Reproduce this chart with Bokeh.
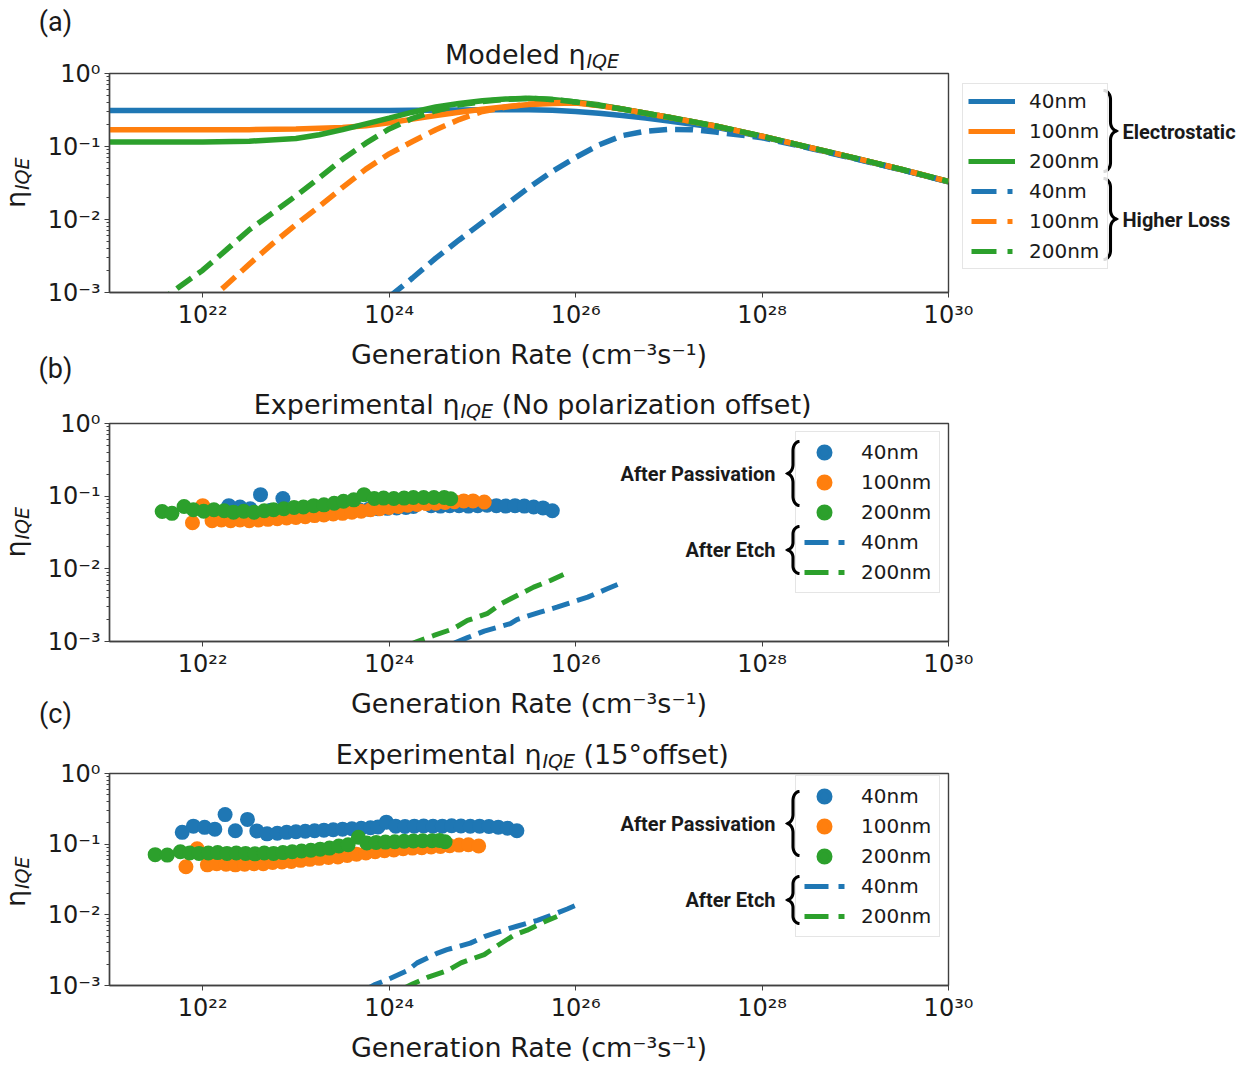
from math import pi, sin, cos, hypot

from bokeh.plotting import figure
from bokeh.models import (Range1d, FixedTicker, CustomJSTickFormatter, Legend,
                          LegendItem, Label, PolyAnnotation, GridBox)
from bokeh.embed import file_html
from bokeh.resources import INLINE

BLUE, ORANGE, GREEN = "#1f77b4", "#ff7f0e", "#2ca02c"
TXT = "#1a1a1a"
AX = "#404040"

# ----------------------------- data -----------------------------
# generation-rate positions are stored as log10(G / cm^-3 s^-1)
x_ticks = [1e22, 1e24, 1e26, 1e28, 1e30]
y_ticks = [1e-3, 1e-2, 1e-1, 1e0]
size_labels = ["40nm", "100nm", "200nm"]

# (a) modeled eta_IQE
model_logG = [21.0, 21.5, 22.0, 22.5, 23.0, 23.25, 23.5, 23.75, 24.0, 24.25, 24.5, 24.75, 25.0,
              25.25, 25.5, 25.75, 26.0, 26.25, 26.5, 26.75, 27.0, 27.5, 28.0, 28.5, 29.0, 29.5, 30.0]
eta_elec_40 = [0.311, 0.311, 0.311, 0.311, 0.311, 0.311, 0.311, 0.311, 0.312, 0.313, 0.314, 0.316, 0.318,
               0.319, 0.318, 0.314, 0.302, 0.285, 0.266, 0.245, 0.224, 0.184, 0.136, 0.0966, 0.0684, 0.0479, 0.0327]
eta_elec_100 = [0.169, 0.169, 0.169, 0.170, 0.174, 0.178, 0.182, 0.193, 0.211, 0.237, 0.266, 0.295, 0.324,
                0.351, 0.376, 0.389, 0.394, 0.365, 0.326, 0.285, 0.251, 0.191, 0.138, 0.0977, 0.0692, 0.0484, 0.0331]
eta_elec_200 = [0.115, 0.115, 0.115, 0.118, 0.129, 0.145, 0.170, 0.204, 0.245, 0.295, 0.347, 0.389, 0.422,
                0.447, 0.457, 0.442, 0.407, 0.372, 0.326, 0.285, 0.251, 0.191, 0.138, 0.0977, 0.0692, 0.0484, 0.0331]

loss40_logG = [24.0, 24.25, 24.5, 24.75, 25.0, 25.25, 25.5, 25.75, 26.0, 26.25, 26.5, 26.75, 27.0,
               27.25, 27.5, 28.0, 28.5, 29.0, 29.5, 30.0]
eta_loss_40 = [0.00087, 0.00158, 0.00295, 0.00525, 0.00912, 0.0158, 0.0275, 0.0457, 0.0708, 0.105, 0.141,
               0.162, 0.172, 0.170, 0.158, 0.132, 0.0955, 0.0676, 0.0479, 0.0327]
loss100_logG = [22.0, 22.25, 22.5, 22.75, 23.0, 23.25, 23.5, 23.75, 24.0, 24.25, 24.5, 24.75, 25.0,
                25.25, 25.5, 25.75, 26.0, 26.5, 27.0, 27.5, 28.0, 28.5, 29.0, 29.5, 30.0]
eta_loss_100 = [0.000646, 0.00126, 0.00245, 0.00468, 0.00851, 0.0151, 0.0275, 0.0490, 0.0794, 0.117, 0.170,
                0.234, 0.302, 0.347, 0.380, 0.398, 0.403, 0.326, 0.251, 0.191, 0.138, 0.0977, 0.0692, 0.0484, 0.0331]
loss200_logG = [21.5, 21.75, 22.0, 22.25, 22.5, 22.75, 23.0, 23.25, 23.5, 23.75, 24.0, 24.25, 24.5, 24.75,
                25.0, 25.25, 25.5, 25.75, 26.0, 26.5, 27.0, 27.5, 28.0, 28.5, 29.0, 29.5, 30.0]
eta_loss_200 = [0.000692, 0.00120, 0.00202, 0.00380, 0.00724, 0.0123, 0.0211, 0.0372, 0.0668, 0.111, 0.174,
                0.243, 0.309, 0.372, 0.412, 0.442, 0.457, 0.442, 0.407, 0.326, 0.251, 0.191, 0.138, 0.0977,
                0.0692, 0.0484, 0.0331]

# (b) experimental, no polarization offset
b_pass40_logG = [22.16, 22.28, 22.40, 22.51, 22.62, 22.73, 22.86, 22.96, 23.07, 23.18, 23.28, 23.38, 23.48,
                 23.58, 23.68, 23.78, 23.88, 23.98, 24.08, 24.18, 24.26, 24.35, 24.45, 24.55, 24.65, 24.75,
                 24.85, 24.95, 25.05, 25.15, 25.25, 25.35, 25.45, 25.55, 25.65, 25.75]
b_pass40_eta = [0.060, 0.074, 0.071, 0.067, 0.105, 0.064, 0.093, 0.063, 0.058, 0.059, 0.060, 0.062, 0.062,
                0.064, 0.065, 0.066, 0.067, 0.068, 0.069, 0.070, 0.072, 0.084, 0.074, 0.073, 0.074, 0.074,
                0.073, 0.074, 0.075, 0.074, 0.073, 0.074, 0.073, 0.071, 0.069, 0.063]
b_pass100_logG = [21.89, 22.00, 22.10, 22.20, 22.30, 22.40, 22.50, 22.60, 22.70, 22.80, 22.90, 23.00, 23.10,
                  23.20, 23.30, 23.40, 23.50, 23.60, 23.70, 23.80, 23.90, 24.00, 24.10, 24.20, 24.30, 24.40,
                  24.50, 24.60, 24.70, 24.80, 24.90, 25.02]
b_pass100_eta = [0.043, 0.074, 0.046, 0.047, 0.046, 0.047, 0.046, 0.047, 0.048, 0.049, 0.050, 0.051, 0.052,
                 0.054, 0.055, 0.057, 0.058, 0.060, 0.062, 0.065, 0.067, 0.070, 0.072, 0.075, 0.077, 0.079,
                 0.080, 0.082, 0.084, 0.086, 0.086, 0.083]
b_pass200_logG = [21.565, 21.67, 21.80, 21.90, 22.01, 22.12, 22.23, 22.33, 22.44, 22.55, 22.66, 22.76, 22.87,
                  22.98, 23.08, 23.19, 23.30, 23.41, 23.51, 23.62, 23.73, 23.84, 23.94, 24.05, 24.16, 24.26,
                  24.37, 24.48, 24.59, 24.66]
b_pass200_eta = [0.0616, 0.058, 0.072, 0.065, 0.062, 0.065, 0.063, 0.060, 0.062, 0.060, 0.063, 0.065, 0.067,
                 0.070, 0.071, 0.074, 0.076, 0.080, 0.085, 0.089, 0.105, 0.093, 0.094, 0.093, 0.094, 0.096,
                 0.096, 0.096, 0.096, 0.092]
b_etch40_logG = [24.70, 24.84, 25.02, 25.30, 25.37, 25.62, 25.80, 26.02, 26.13, 26.34, 26.45]
b_etch40_eta = [0.00095, 0.00113, 0.00139, 0.00176, 0.00200, 0.00254, 0.00297, 0.00367, 0.00408, 0.00532, 0.00610]
b_etch200_logG = [24.20, 24.30, 24.48, 24.69, 24.84, 25.05, 25.20, 25.41, 25.55, 25.73, 25.87]
b_etch200_eta = [0.00088, 0.00100, 0.00121, 0.00150, 0.00195, 0.00241, 0.00331, 0.00454, 0.00560, 0.00692, 0.00838]

# (c) experimental, 15 degree offset
c_pass40_logG = [21.78, 21.90, 22.02, 22.13, 22.24, 22.35, 22.48, 22.58, 22.69, 22.80, 22.90, 23.00, 23.10,
                 23.20, 23.30, 23.40, 23.50, 23.60, 23.70, 23.80, 23.88, 23.97, 24.07, 24.17, 24.27, 24.37,
                 24.47, 24.57, 24.67, 24.77, 24.87, 24.97, 25.07, 25.17, 25.27, 25.37]
c_pass40_eta = [0.147, 0.180, 0.173, 0.163, 0.262, 0.155, 0.224, 0.154, 0.140, 0.143, 0.147, 0.150, 0.152,
                0.155, 0.158, 0.160, 0.163, 0.165, 0.168, 0.171, 0.175, 0.205, 0.180, 0.178, 0.180, 0.181,
                0.179, 0.180, 0.182, 0.181, 0.179, 0.180, 0.178, 0.174, 0.168, 0.155]
c_pass100_logG = [21.82, 21.94, 22.05, 22.15, 22.25, 22.35, 22.45, 22.55, 22.65, 22.75, 22.85, 22.95, 23.05,
                  23.15, 23.25, 23.35, 23.45, 23.55, 23.65, 23.75, 23.85, 23.95, 24.05, 24.15, 24.25, 24.35,
                  24.45, 24.55, 24.65, 24.75, 24.85, 24.96]
c_pass100_eta = [0.048, 0.086, 0.051, 0.053, 0.052, 0.051, 0.052, 0.053, 0.053, 0.055, 0.056, 0.057, 0.059,
                 0.061, 0.063, 0.065, 0.066, 0.069, 0.072, 0.075, 0.078, 0.081, 0.083, 0.086, 0.088, 0.089,
                 0.091, 0.093, 0.095, 0.097, 0.098, 0.094]
c_pass200_logG = [21.49, 21.62, 21.76, 21.86, 21.96, 22.06, 22.16, 22.26, 22.36, 22.46, 22.56, 22.66, 22.76,
                  22.86, 22.96, 23.06, 23.16, 23.26, 23.36, 23.46, 23.56, 23.67, 23.76, 23.86, 23.96, 24.06,
                  24.16, 24.26, 24.36, 24.46, 24.54, 24.60]
c_pass200_eta = [0.071, 0.070, 0.078, 0.075, 0.074, 0.075, 0.076, 0.074, 0.075, 0.074, 0.073, 0.075, 0.074,
                 0.076, 0.078, 0.080, 0.082, 0.085, 0.088, 0.094, 0.098, 0.125, 0.104, 0.106, 0.107, 0.108,
                 0.110, 0.111, 0.112, 0.112, 0.113, 0.108]
c_etch40_logG = [23.75, 23.84, 23.98, 24.19, 24.30, 24.52, 24.62, 24.87, 25.02, 25.23, 25.37, 25.59, 25.73,
                 25.91, 26.05]
c_etch40_eta = [0.00088, 0.00102, 0.00121, 0.00161, 0.00209, 0.00288, 0.00321, 0.00398, 0.00490, 0.00607,
                0.00689, 0.00834, 0.00977, 0.0121, 0.0145]
c_etch200_logG = [24.15, 24.25, 24.41, 24.62, 24.77, 25.02, 25.16, 25.34, 25.48, 25.66, 25.80]
c_etch200_eta = [0.00090, 0.00105, 0.00130, 0.00161, 0.00209, 0.00274, 0.00365, 0.00518, 0.00607, 0.00791, 0.00948]


def G(logs):
    return [10.0 ** v for v in logs]


y_minor = [m * 10.0 ** k for k in (-3, -2, -1) for m in range(2, 10)]

# ----------------------------- layout constants (page px) -----------------------------
W, H = 1247, 1065
FL, FR = 109, 948          # frame left / right on the page
LINE_W = 5.5
DASH = "18 8"

fmt = CustomJSTickFormatter(code="""
const sup = {"0":"\u2070","1":"\u00b9","2":"\u00b2","3":"\u00b3","4":"\u2074","5":"\u2075",
             "6":"\u2076","7":"\u2077","8":"\u2078","9":"\u2079","-":"\u207b"};
const e = Math.round(Math.log10(tick));
return "10" + String(e).split("").map(c => sup[c]).join("");
""")


def no_align(p):
    try:
        p.frame_align = False
    except Exception:
        pass


def make_fig(height, top_border, frame_h):
    p = figure(width=W, height=height, x_axis_type="log", y_axis_type="log",
               x_range=Range1d(1e21, 1e30), y_range=Range1d(1e-3, 1.0),
               output_backend="svg", toolbar_location=None, title=None,
               min_border_left=FL, min_border_right=W - FR,
               min_border_top=top_border, min_border_bottom=height - top_border - frame_h,
               background_fill_color="white", border_fill_color="white")
    no_align(p)
    p.xgrid.visible = False
    p.ygrid.visible = False
    p.outline_line_color = AX
    p.outline_line_width = 1.4
    p.xaxis.ticker = FixedTicker(ticks=x_ticks, minor_ticks=[])
    p.yaxis.ticker = FixedTicker(ticks=y_ticks, minor_ticks=y_minor)
    for ax in (p.xaxis[0], p.yaxis[0]):
        ax.formatter = fmt
        ax.major_label_text_font = "DejaVu Sans"
        ax.major_label_text_font_size = "24px"
        ax.major_label_text_color = TXT
        ax.axis_line_color = AX
        ax.axis_line_width = 1.4
        ax.major_tick_line_color = AX
        ax.minor_tick_line_color = AX
        ax.major_tick_in = 0
        ax.major_tick_out = 5
        ax.minor_tick_in = 0
        ax.minor_tick_out = 3
    p.xaxis.major_label_standoff = 3
    p.yaxis.major_label_standoff = 4
    p.xaxis.axis_label = "Generation Rate (cm\u207b\u00b3s\u207b\u00b9)"
    p.xaxis.axis_label_text_font = "DejaVu Sans"
    p.xaxis.axis_label_text_font_size = "27px"
    p.xaxis.axis_label_text_font_style = "normal"
    p.xaxis.axis_label_text_color = TXT
    p.xaxis.axis_label_standoff = 7
    return p


def make_legend(items, loc, glyph_w, glyph_h, spacing, padding, standoff, label_w, margin=0):
    return Legend(items=items, location=loc, orientation="vertical", glyph_width=glyph_w,
                  glyph_height=glyph_h, label_height=glyph_h, spacing=spacing, padding=padding,
                  margin=margin, label_standoff=standoff, label_width=label_w,
                  label_text_font="DejaVu Sans", label_text_font_size="20px", label_text_color=TXT,
                  border_line_color="#cccccc", border_line_width=1.2, background_fill_color="white",
                  background_fill_alpha=0.85, inactive_fill_alpha=0.0)


# ============================= panel (a) =============================
pa = make_fig(382, 73, 219)
for eta, col in zip([eta_elec_40, eta_elec_100, eta_elec_200], [BLUE, ORANGE, GREEN]):
    pa.line(G(model_logG), eta, line_color=col, line_width=LINE_W)
loss_sets = list(zip([loss40_logG, loss100_logG, loss200_logG],
                     [eta_loss_40, eta_loss_100, eta_loss_200], [BLUE, ORANGE, GREEN]))
for lg, eta, col in loss_sets:
    pa.line(G(lg), eta, line_color=col, line_width=LINE_W, line_dash=DASH)


# ============================= panels (b) and (c) =============================
def exp_panel(height, top_border, frame_h, fb, data):
    p = make_fig(height, top_border, frame_h)
    (l40, e40), (l100, e100), (l200, e200), (le40, ee40), (le200, ee200) = data
    pass_sets = list(zip([l40, l100, l200], [e40, e100, e200], [BLUE, ORANGE, GREEN]))
    etch_sets = list(zip([le40, le200], [ee40, ee200], [BLUE, GREEN]))
    for lg, eta, col in pass_sets:
        p.scatter(G(lg), eta, size=15, fill_color=col, line_color=col, line_width=0)
    for lg, eta, col in etch_sets:
        p.line(G(lg), eta, line_color=col, line_width=5, line_dash=DASH)
    # legend swatches (hidden one-point renderers, used only to draw the legend keys)
    sw_dots = [p.scatter(G(lg[:1]), eta[:1], size=10, fill_color=col, line_color=col, line_width=4,
                         visible=False) for lg, eta, col in pass_sets]
    sw_dash = [p.line(G(lg[:1]), eta[:1], line_color=col, line_width=5, line_dash="0 3 24 10 6 3",
                      visible=False) for lg, eta, col in etch_sets]
    items = [LegendItem(label=lab, renderers=[r]) for lab, r in zip(size_labels, sw_dots)]
    items += [LegendItem(label=lab, renderers=[r]) for lab, r in zip(["40nm", "200nm"], sw_dash)]
    top = fb - 218 + 10
    p.add_layout(make_legend(items, (795 - FL, fb - (top + 160)), 46, 30, 0, 5, 14, 73))
    return p


FB_B, FB_C = 641, 990
pb = exp_panel(348, 41, 218, FB_B,
               [(b_pass40_logG, b_pass40_eta), (b_pass100_logG, b_pass100_eta),
                (b_pass200_logG, b_pass200_eta), (b_etch40_logG, b_etch40_eta),
                (b_etch200_logG, b_etch200_eta)])
pc = exp_panel(335, 43, 217, FB_C,
               [(c_pass40_logG, c_pass40_eta), (c_pass100_logG, c_pass100_eta),
                (c_pass200_logG, c_pass200_eta), (c_etch40_logG, c_etch40_eta),
                (c_etch200_logG, c_etch200_eta)])

# ============================= text / bracket overlay (page coordinates) =============================
ov = figure(width=W, height=H, x_range=Range1d(0, W), y_range=Range1d(0, H),
            x_axis_location=None, y_axis_location=None, output_backend="svg",
            toolbar_location=None, title=None, min_border=0, outline_line_color=None,
            background_fill_alpha=0.0, border_fill_alpha=0.0)
no_align(ov)
ov.grid.visible = False

# legend of panel (a): it sits outside the axes box, so it lives on the overlay
a_sets = [(model_logG, eta_elec_40, BLUE), (model_logG, eta_elec_100, ORANGE),
          (model_logG, eta_elec_200, GREEN)]
sw_solid = [ov.line(lg[:1], eta[:1], line_color=col, line_width=5, visible=False)
            for lg, eta, col in a_sets]
sw_loss = [ov.line(lg[:1], eta[:1], line_color=col, line_width=5, line_dash="0 3 25 11 5 3",
                   visible=False) for lg, eta, col in loss_sets]
items_a = [LegendItem(label=lab, renderers=[r]) for lab, r in zip(size_labels, sw_solid)]
items_a += [LegendItem(label=lab, renderers=[r]) for lab, r in zip(size_labels, sw_loss)]
ov.add_layout(make_legend(items_a, (962, H - 269), 47, 24, 6, 5, 14, 73))


def label(x, y, text, size, font="DejaVu Sans", style="normal", align="left",
          baseline="middle", angle=0.0, color=TXT):
    ov.add_layout(Label(x=x, y=H - y, x_units="screen", y_units="screen", text=text,
                        text_font=font, text_font_size=f"{size}px", text_font_style=style,
                        text_align=align, text_baseline=baseline, angle=angle, text_color=color))


def brace(x_left, y_top, y_bot, width, facing="right", thick=3.1, n=12):
    yc = (y_top + y_bot) / 2.0
    r = min((y_bot - y_top) * 0.16, 9.0)
    half = width / 2.0
    top = []
    for i in range(n + 1):
        a = (pi / 2) * i / n
        top.append((x_left + half * sin(a), y_top + r - r * cos(a)))
    for i in range(n + 1):
        a = (pi / 2) * i / n
        top.append((x_left + width - half * cos(a), yc - r + r * sin(a)))
    bottom = [(x, 2 * yc - y) for (x, y) in reversed(top[:-1])]
    line = top + bottom
    if facing == "left":
        line = [(2 * x_left + width - x, y) for (x, y) in line]
    left, right = [], []
    for i, (x, y) in enumerate(line):
        xa, ya = line[max(i - 1, 0)]
        xb, yb = line[min(i + 1, len(line) - 1)]
        tx, ty = xb - xa, yb - ya
        L = hypot(tx, ty) or 1.0
        nx, ny = -ty / L, tx / L
        left.append((x + nx * thick / 2, y + ny * thick / 2))
        right.append((x - nx * thick / 2, y - ny * thick / 2))
    poly = left + right[::-1]
    ov.add_layout(PolyAnnotation(xs=[x for x, _ in poly], ys=[H - y for _, y in poly],
                                 xs_units="screen", ys_units="screen", fill_color="black",
                                 fill_alpha=1.0, line_color=None, line_alpha=0.0))


def title_parts(px, baseline_y, main, rest=None):
    label(px, baseline_y, main, 27, align="right", baseline="alphabetic")
    label(px + 1, baseline_y + 6, "IQE", 19, style="italic", baseline="alphabetic")
    if rest is not None:
        label(px + 42, baseline_y, rest, 27, baseline="alphabetic")


def ylabel_parts(frame_mid):
    py = frame_mid + 8
    label(15, py, "\u03b7", 27, align="right", baseline="alphabetic", angle=pi / 2)
    label(21, py - 1, "IQE", 19, style="italic", align="left", baseline="alphabetic", angle=pi / 2)


# panel tags
for tag, ty in (("(a)", 21), ("(b)", 368), ("(c)", 713)):
    label(55, ty, tag, 27, font="Roboto", align="center")
# titles
title_parts(585, 54, "Modeled \u03b7")
title_parts(459, 404, "Experimental \u03b7", "(No polarization offset)")
title_parts(541, 754, "Experimental \u03b7", "(15\u00b0offset)")
# y labels
for mid in (182.5, 532.0, 881.5):
    ylabel_parts(mid)
# (a) bracket groups
brace(1103, 90, 171, 14, "right")
brace(1103, 178, 259, 14, "right")
label(1122, 131, "Electrostatic", 20, font="Roboto", style="bold")
label(1122, 219, "Higher Loss", 20, font="Roboto", style="bold")
# (b), (c) bracket groups
for top in (433, 783):
    brace(786, top + 8, top + 72, 13, "left")
    brace(786, top + 93, top + 140, 13, "left")
    label(775, top + 40, "After Passivation", 20, font="Roboto", style="bold", align="right")
    label(775, top + 116, "After Etch", 20, font="Roboto", style="bold", align="right")

layout = GridBox(children=[(pa, 0, 0), (pb, 1, 0), (pc, 2, 0), (ov, 0, 0, 3, 1)])
open("out.html", "w").write(file_html(layout, INLINE))
